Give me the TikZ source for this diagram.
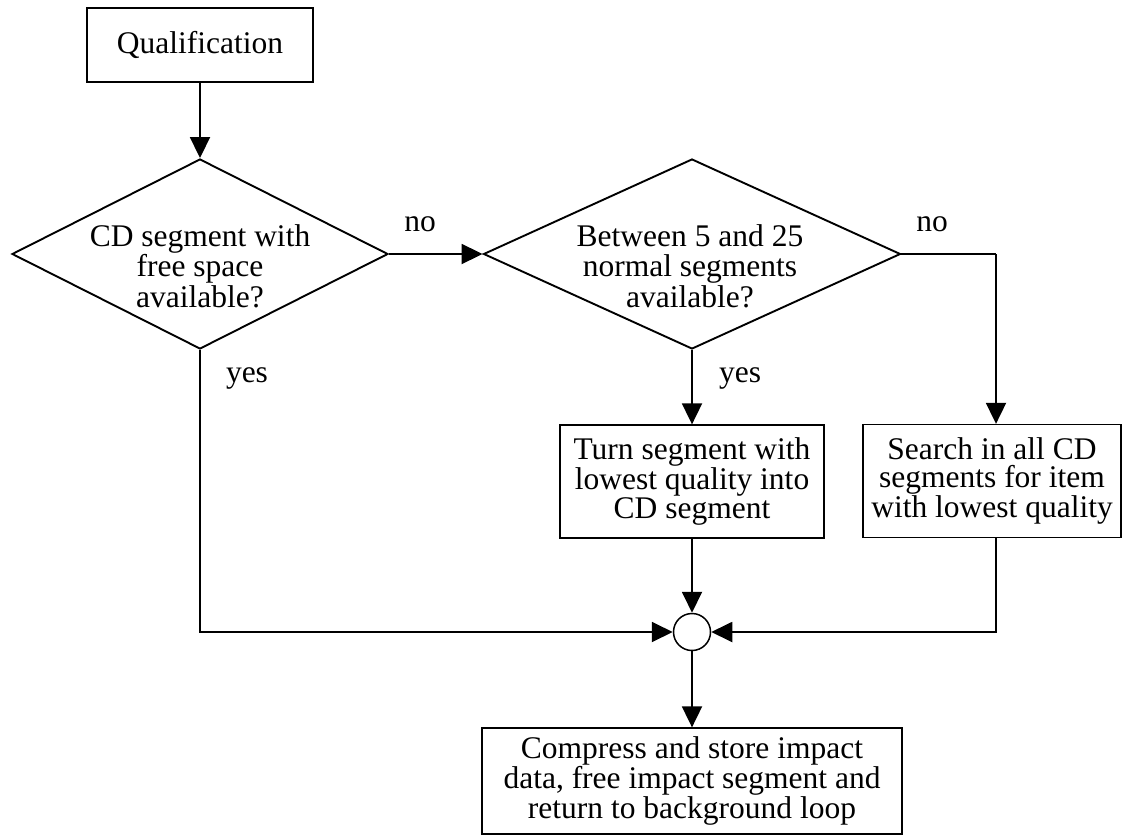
\documentclass[tikz,border=0pt]{standalone}
\usepackage{fontspec}
\setmainfont{Liberation Serif}
\usetikzlibrary{arrows.meta,shapes.geometric}

\begin{document}
\begin{tikzpicture}[x=1pt,y=-1pt,>={Triangle[length=21pt,width=20pt]},
  line width=1.9pt,font=\fontsize{31.5}{28.5}\selectfont,
  box/.style={draw,rectangle,line width=1.3pt,inner sep=0pt,align=center},
  decision/.style={draw,diamond,inner sep=0pt},
  question/.style={align=center,inner sep=0pt,font=\fontsize{31.5}{30.5}\selectfont},
  junction/.style={draw,circle,inner sep=0pt,minimum size=37pt,line width=1.5pt}]

  \useasboundingbox (0,0) rectangle (1123,837);

  \node[box,minimum width=226pt,minimum height=74pt] (qual) at (200,45) {Qualification};

  \node[decision,minimum width=376pt,minimum height=190pt] (cdfree) at (200,254) {};
  \node[question] (cdfreetxt) at (200,266) {CD segment with\\free space\\available?};

  \node[decision,minimum width=417pt,minimum height=190pt] (normal) at (692,254) {};
  \node[question] (normaltxt) at (690,266) {Between 5 and 25\\normal segments\\available?};

  \node[box,minimum width=264pt,minimum height=113pt] (turn) at (692,481.5)
    {Turn segment with\\lowest quality into\\CD segment};
  \node[box,minimum width=258pt,minimum height=113pt] (search) at (992,481)
    {Search in all CD\\segments for item\\with lowest quality};

  \node[junction] (merge) at (692,632) {};

  \node[box,minimum width=420pt,minimum height=106pt] (store) at (692,781)
    {Compress and store impact\\data, free impact segment and\\return to background loop};

  \coordinate (bend) at (996,254);

  \node (no1) at (420,224) {no};
  \node (no2) at (932,224) {no};
  \node (yes1) at (247,378) {yes};
  \node (yes2) at (740,378) {yes};

  \draw[->] (qual) -- (cdfree.north);
  \draw[->] (cdfree.east) -- (normal.west);
  \draw (normal.east) -- (bend);
  \draw[->] (bend) -- (bend |- search.north);
  \draw[->] (normal.south) -- (turn.north);
  \draw[->] (cdfree.south) |- (merge.west);
  \draw[->] (turn.south) -- (merge.north);
  \draw[->] (bend |- search.south) |- (merge.east);
  \draw[->] (merge.south) -- (store.north);

\end{tikzpicture}
\end{document}
